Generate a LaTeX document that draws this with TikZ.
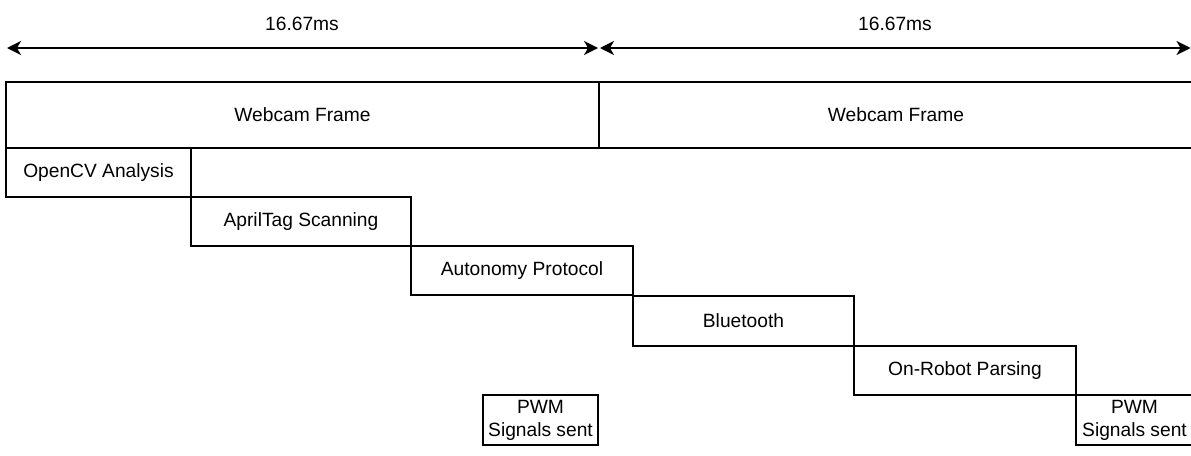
\documentclass[tikz,border=0pt]{standalone}
\usepackage{fontspec}
\setmainfont{Liberation Sans}
\usetikzlibrary{arrows.meta}
\begin{document}
\begin{tikzpicture}[x=1pt,y=-1pt,
  blk/.style={draw=black,line width=1.6pt,rectangle,inner sep=0pt,outer sep=0pt,anchor=north west,font=\fontsize{19.2}{22}\selectfont,align=center},
  dim/.style={line width=1.6pt,{Stealth[length=14pt,width=14pt,inset=4pt]}-{Stealth[length=14pt,width=14pt,inset=4pt]}},
  lbl/.style={font=\fontsize{19.2}{22}\selectfont,inner sep=0pt}]
\useasboundingbox (0,0) rectangle (1191,455);
\coordinate (a1) at (7,48);
\coordinate (a2) at (598,48);
\coordinate (a3) at (600,48);
\coordinate (a4) at (1190.5,48);
\draw[dim] (a1) -- (a2);
\draw[dim] (a3) -- (a4);
\node[lbl] (t1) at (302,24) {16.67ms};
\node[lbl] (t2) at (895,24) {16.67ms};
\node[blk,minimum width=593pt,minimum height=66pt] (w1) at (6,82) {Webcam Frame};
\node[blk,minimum width=594pt,minimum height=66pt] (w2) at (599,82) {Webcam Frame};
\node[blk,minimum width=185pt,minimum height=49pt] (ocv) at (6,148) {OpenCV Analysis};
\node[blk,minimum width=220pt,minimum height=49pt] (apt) at (191,197) {AprilTag Scanning};
\node[blk,minimum width=222pt,minimum height=49pt] (aut) at (411,246) {Autonomy Protocol};
\node[blk,minimum width=221pt,minimum height=50pt] (blu) at (633,296) {Bluetooth};
\node[blk,minimum width=222pt,minimum height=49pt] (orp) at (854,346) {On-Robot Parsing};
\node[blk,minimum width=115pt,minimum height=50pt] (pwm1) at (483,395) {PWM\\[1pt]Signals sent};
\node[blk,minimum width=117pt,minimum height=50pt] (pwm2) at (1076,395) {PWM\\[1pt]Signals sent};
\end{tikzpicture}
\end{document}
